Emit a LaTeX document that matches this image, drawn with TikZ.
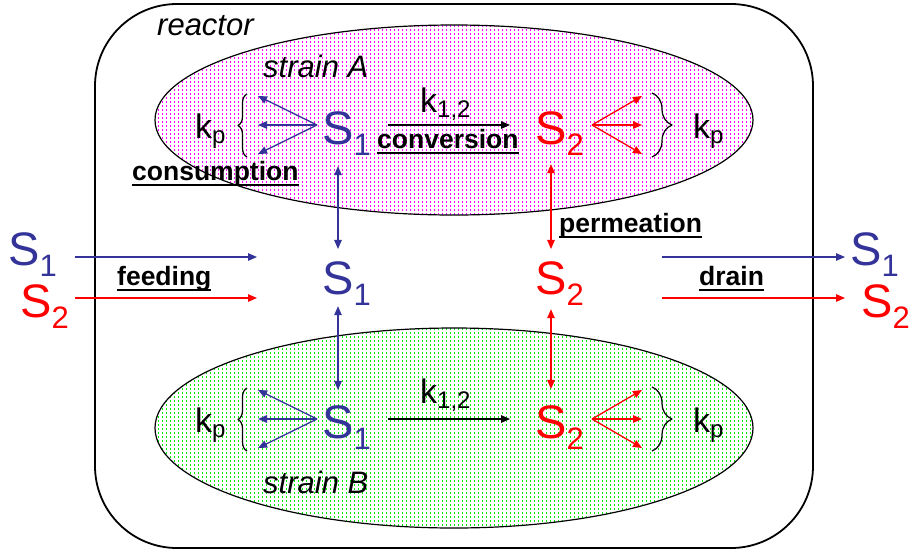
\documentclass[tikz,border=0pt]{standalone}
\usepackage{fontspec}
\setmainfont{Liberation Sans}
\usetikzlibrary{arrows.meta,decorations.pathreplacing}

\definecolor{sblue}{RGB}{51,51,153}
\definecolor{sred}{RGB}{255,0,0}
\definecolor{dotpink}{RGB}{255,0,255}
\definecolor{dotgreen}{RGB}{0,235,0}

% substrate with index, rate constant with index, underlined label
\newcommand{\subst}[2]{#1\raisebox{-11pt}{\fontsize{31}{31}\selectfont #2}}
\newcommand{\rate}[1]{k\raisebox{-5pt}{\fontsize{24}{24}\selectfont #1}}
\newsavebox{\ulbox}
\newcommand{\ulabel}[1]{\sbox{\ulbox}{#1}\rlap{\rule[-5.5pt]{\wd\ulbox}{1.3pt}}\usebox{\ulbox}}

\tikzset{
  species/.style={inner sep=0pt, anchor=base west, font=\fontsize{47}{47}\selectfont},
  kin/.style={inner sep=0pt, anchor=base west, font=\fontsize{34}{34}\selectfont},
  tag/.style={inner sep=0pt, anchor=base west, font=\fontsize{26.5}{26.5}\selectfont\bfseries},
  strain/.style={inner sep=0pt, anchor=base west, font=\fontsize{31}{31}\selectfont\itshape},
  flow/.style={-{Triangle[length=9pt,width=7.5pt]}, line width=1.3pt},
  both/.style={{Triangle[length=9pt,width=7.5pt]}-{Triangle[length=9pt,width=7.5pt]}, line width=1.3pt},
  dotrow/.style={#1, line width=1.05pt, dash pattern=on 1.05pt off 2.95pt},
}

\begin{document}
\begin{tikzpicture}[x=1pt, y=-1pt, line join=round]

    \useasboundingbox (0,0) rectangle (910,550);

    % reactor
    \draw[line width=1.8pt, rounded corners=82pt] (95,4) rectangle (813,548);

    % strain A (pink dots)
    \begin{scope}
        \clip (454,120) ellipse [x radius=299, y radius=95];
        \foreach \yy in {26,30,...,216}
            \draw[dotrow=dotpink] (154,\yy) -- (754,\yy);
    \end{scope}
    \draw[line width=1.2pt] (454,120) ellipse [x radius=299, y radius=95];

    % strain B (green dots)
    \begin{scope}
        \clip (454,428) ellipse [x radius=299, y radius=100];
        \foreach \yy in {329,333,...,529}
            \draw[dotrow=dotgreen] (154,\yy) -- (754,\yy);
    \end{scope}
    \draw[line width=1.2pt] (454,428) ellipse [x radius=299, y radius=100];

    \node[strain] (reactorlbl) at (157,35) {reactor};
    \node[strain] (strainA) at (263,77) {strain A};
    \node[strain] (strainB) at (263,493) {strain B};

    % substrates
    \node[species, text=sblue] (s1A) at (322,144) {\subst{S}{1}};
    \node[species, text=sred] (s2A) at (535,144) {\subst{S}{2}};
    \node[species, text=sblue] (s1M) at (322,294) {\subst{S}{1}};
    \node[species, text=sred] (s2M) at (535,294) {\subst{S}{2}};
    \node[species, text=sblue] (s1B) at (322,438) {\subst{S}{1}};
    \node[species, text=sred] (s2B) at (535,438) {\subst{S}{2}};
    \node[species, text=sblue] (s1in) at (8,265) {\subst{S}{1}};
    \node[species, text=sred] (s2in) at (20,317) {\subst{S}{2}};
    \node[species, text=sblue] (s1out) at (850,265) {\subst{S}{1}};
    \node[species, text=sred] (s2out) at (861,317) {\subst{S}{2}};

    % rate constants
    \node[kin] (kpA1) at (195,138) {\rate{p}};
    \node[kin] (kpA2) at (693,138) {\rate{p}};
    \node[kin] (kpB1) at (195,432) {\rate{p}};
    \node[kin] (kpB2) at (693,432) {\rate{p}};
    \node[kin] (k12A) at (420,112) {\rate{1,2}};
    \node[kin] (k12B) at (420,403) {\rate{1,2}};

    % process names
    \node[tag] (convlbl) at (377,148) {\ulabel{conversion}};
    \node[tag] (conslbl) at (132,180) {\ulabel{consumption}};
    \node[tag] (feedlbl) at (117,285) {\ulabel{feeding}};
    \node[tag] (drainlbl) at (699,285) {\ulabel{drain}};
    \node[tag] (permlbl) at (559,232) {\ulabel{permeation}};

    % consumption fans and braces
    \foreach \row/\yy in {A/125,B/419}{
        \coordinate (hubL\row) at (317,\yy);
        \coordinate (hubR\row) at (592,\yy);
        \foreach \dy [count=\i] in {-29,0,29}{
            \coordinate (tipL\row\i) at (258,\yy+\dy);
            \coordinate (tipR\row\i) at (642,\yy+\dy);
            \draw[flow, sblue] (hubL\row) -- (tipL\row\i);
            \draw[flow, sred] (hubR\row) -- (tipR\row\i);
        }
        \draw[line width=1.2pt, decorate, decoration={brace, amplitude=9pt}]
            (247,\yy+32) -- (247,\yy-31);
        \draw[line width=1.2pt, decorate, decoration={brace, amplitude=20pt}]
            (652,\yy-32) -- (652,\yy+32);
    }

    % conversion
    \draw[flow, shorten <=17pt, shorten >=25pt] (s1A.east |- hubLA) -- (s2A.west |- hubLA);
    \draw[flow, shorten <=17pt, shorten >=25pt] (s1B.east |- hubLB) -- (s2B.west |- hubLB);

    % permeation
    \draw[both, sblue, shorten <=11pt, shorten >=12pt] ([xshift=-8.5pt]s1A.south) -- ([xshift=-8.5pt]s1M.north);
    \draw[both, sblue, shorten <=1pt, shorten >=15pt] ([xshift=-8.5pt]s1M.south) -- ([xshift=-8.5pt]s1B.north);
    \draw[both, sred, shorten <=9pt, shorten >=12pt] ([xshift=-8.5pt]s2A.south) -- ([xshift=-8.5pt]s2M.north);
    \draw[both, sred, shorten <=4pt, shorten >=16pt] ([xshift=-8.5pt]s2M.south) -- ([xshift=-8.5pt]s2B.north);

    % feeding and drain
    \coordinate (feed1) at (257,257);
    \coordinate (feed2) at (257,298);
    \coordinate (drain1) at (662,257);
    \coordinate (drain2) at (662,298);
    \draw[flow, sblue, shorten <=18pt] (s1in.east |- feed1) -- (feed1);
    \draw[flow, sred, shorten <=6pt] (s2in.east |- feed2) -- (feed2);
    \draw[flow, sblue, shorten >=5pt] (drain1) -- (drain1 -| s1out.west);
    \draw[flow, sred, shorten >=16pt] (drain2) -- (drain2 -| s2out.west);

\end{tikzpicture}
\end{document}
